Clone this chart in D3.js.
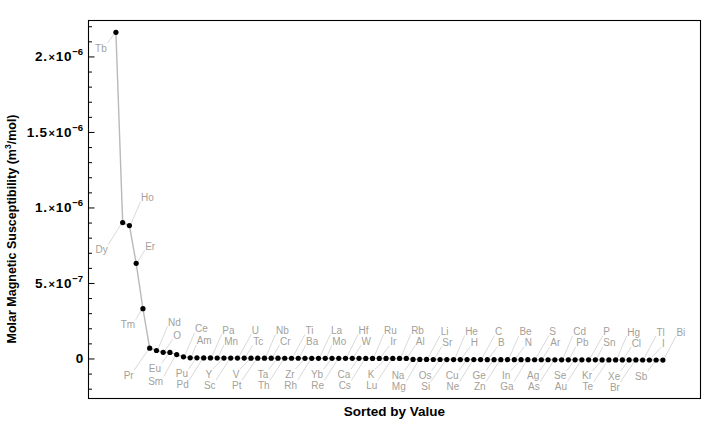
<!DOCTYPE html>
<html>
<head>
<meta charset="utf-8">
<script src="https://cdn.jsdelivr.net/npm/d3@7"></script>
<style>
  html, body { margin: 0; padding: 0; background: #fff; }
  svg { display: block; }
  text { font-family: "Liberation Sans", Arial, Helvetica, sans-serif; }
</style>
</head>
<body>
<svg id="chart" width="720" height="421"></svg>
<script>
// Elements sorted by molar magnetic susceptibility (descending)
const elements = ["Tb","Dy","Ho","Er","Tm","Pr","Nd","O","Eu","Sm","Ce","Am","Pu","Pd","Pa","Mn","Y","Sc","U","Tc","V","Pt","Nb","Cr","Ta","Th","Ti","Ba","Zr","Rh","La","Mo","Yb","Re","Hf","W","Ca","Cs","Ru","Ir","K","Lu","Rb","Al","Na","Mg","Li","Sr","Os","Si","He","H","Cu","Ne","C","B","Ge","Zn","Be","N","In","Ga","S","Ar","Ag","As","Cd","Pb","Se","Au","P","Sn","Kr","Te","Hg","Cl","Xe","Br","Tl","I","Sb","Bi"];
// Molar magnetic susceptibility, m^3/mol
const values = [2.16e-6, 9.0e-7, 8.8e-7, 6.3e-7, 3.3e-7, 6.8e-8, 5.3e-8, 4.1e-8, 4.0e-8, 2.6e-8,
  1.1e-8, 4.5e-9, 4.2e-9, 4.0e-9, 3.5e-9, 3.2e-9, 3.0e-9, 2.8e-9, 2.6e-9, 2.4e-9,
  2.2e-9, 2.0e-9, 1.9e-9, 1.8e-9, 1.7e-9, 1.6e-9, 1.5e-9, 1.4e-9, 1.3e-9, 1.2e-9,
  1.1e-9, 1.0e-9, 9.0e-10, 8.5e-10, 8.0e-10, 7.5e-10, 7.0e-10, 6.5e-10, 5.5e-10, 4.5e-10,
  3.5e-10, 2.5e-10, 2.0e-10, 1.5e-10, -6.0e-9, -6.2e-9, -6.4e-9, -6.6e-9, -6.8e-9, -7.0e-9,
  -7.1e-9, -7.2e-9, -7.3e-9, -7.4e-9, -7.5e-9, -7.6e-9, -7.7e-9, -7.8e-9, -7.9e-9, -8.0e-9,
  -8.1e-9, -8.2e-9, -8.3e-9, -8.4e-9, -8.5e-9, -8.6e-9, -8.7e-9, -8.8e-9, -8.9e-9, -9.0e-9,
  -9.1e-9, -9.2e-9, -9.3e-9, -9.4e-9, -9.5e-9, -9.6e-9, -9.7e-9, -9.8e-9, -9.9e-9, -1.0e-8,
  -1.02e-8, -1.05e-8];
// Y tick values and their labels (mantissa, exponent)
const yTickValues = [0, 5e-7, 1e-6, 1.5e-6, 2e-6];
const yTickMantissa = ["0", "5.", "1.", "1.5", "2."];
const yTickExponent = ["", "−7", "−6", "−6", "−6"];
const xTitle = "Sorted by Value";
const yTitleMain = "Molar Magnetic Susceptibility (m";
const yTitleSup = "3";
const yTitleEnd = "/mol)";

const svg = d3.select("#chart");
const L = 88.5, R = 700.5, T = 20.5, B = 398.5;

const x = d3.scaleLinear().domain([-3.06, 87.57]).range([L, R]);
const y = d3.scaleLinear().domain([-2.65e-7, 2.238e-6]).range([B, T]);

const data = elements.map((e, i) => ({ name: e, rank: i + 1, value: values[i] }));

// Frame
svg.append("rect").attr("x", L).attr("y", T).attr("width", R - L).attr("height", B - T)
  .attr("fill", "none").attr("stroke", "#000").attr("stroke-width", 1.1);

// Y ticks (inside the frame)
const minorVals = d3.range(-2, 23).filter(k => k % 5 !== 0).map(k => k * 1e-7);
const axMinor = d3.axisRight(y).tickValues(minorVals).tickSize(3.5).tickFormat("");
const axMajor = d3.axisRight(y).tickValues(yTickValues).tickSize(6).tickFormat("");
[axMinor, axMajor].forEach(ax => {
  const g = svg.append("g").attr("transform", `translate(${L},0)`).call(ax);
  g.select(".domain").remove();
  g.selectAll("line").attr("stroke", "#000").attr("stroke-width", 1);
});

// Y tick labels
const tl = svg.append("g");
yTickValues.forEach((v, i) => {
  const t = tl.append("text").attr("x", 83).attr("y", y(v) + 5)
    .attr("text-anchor", "end").attr("font-size", 13.5).attr("font-weight", "bold")
    .attr("letter-spacing", 0.7).attr("fill", "#000");
  if (yTickExponent[i] === "") {
    t.attr("x", 84).text(yTickMantissa[i]);
  } else {
    t.append("tspan").text(yTickMantissa[i]);
    t.append("tspan").attr("font-size", 11).attr("dx", 1).text("×");
    t.append("tspan").text("10");
    t.append("tspan").attr("font-size", 9.5).attr("dy", -6).attr("letter-spacing", 0).text(yTickExponent[i]);
  }
});

// Axis titles
svg.append("text").attr("x", (L + R) / 2).attr("y", 416).attr("text-anchor", "middle")
  .attr("font-size", 13.5).attr("font-weight", "bold").text(xTitle);
const yt = svg.append("text").attr("transform", `translate(16,229) rotate(-90)`)
  .attr("text-anchor", "middle").attr("font-size", 12.5).attr("font-weight", "bold");
yt.append("tspan").text(yTitleMain);
yt.append("tspan").attr("font-size", 8.5).attr("dy", -5).text(yTitleSup);
yt.append("tspan").attr("dy", 5).text(yTitleEnd);

// Callout placement cycle
const slots = {
  farUp:   { dx: 18,  dy: -28, up: true },
  nearUp:  { dx: 14,  dy: -17, up: true },
  nearDown:{ dx: -15, dy: 16,  up: false },
  farDown: { dx: -21, dy: 27,  up: false }
};
const cycle = ["farUp", "nearUp", "nearDown", "farDown"];
data.forEach((d, i) => {
  d.slot = (i === data.length - 1) ? slots.farUp : slots[cycle[((i - 2) % 4 + 4) % 4]];
  d.px = x(d.rank); d.py = y(d.value);
  d.lx = d.px + d.slot.dx; d.ly = d.py + d.slot.dy;
});

const leaderG = svg.append("g");
const lineG = svg.append("g");
const dotG = svg.append("g");
const labelG = svg.append("g");

// Labels
labelG.selectAll("text").data(data).join("text")
  .attr("x", d => d.lx).attr("y", d => d.ly + 3.6)
  .attr("text-anchor", "middle").attr("font-size", 10).attr("fill", "#a49f9a")
  .text(d => d.name)
  .each(function (d) { d.w = this.getComputedTextLength(); });

// Leaders
leaderG.selectAll("line").data(data).join("line")
  .attr("x1", d => d.px + (d.slot.up ? 1.5 : -1.5))
  .attr("y1", d => d.py + (d.slot.up ? -1.5 : 1.5))
  .attr("x2", d => d.slot.up ? d.lx - d.w / 2 - 0.5 : d.lx + d.w / 2 + 0.5)
  .attr("y2", d => d.slot.up ? d.ly + 4 : d.ly - 5)
  .attr("stroke", "#cfcfcf").attr("stroke-width", 0.8);

// Connecting line
lineG.append("path").datum(data)
  .attr("d", d3.line().x(d => x(d.rank)).y(d => y(d.value)))
  .attr("fill", "none").attr("stroke", "#b9b9b9").attr("stroke-width", 1.4);

// Points
dotG.selectAll("circle").data(data).join("circle")
  .attr("cx", d => x(d.rank)).attr("cy", d => y(d.value)).attr("r", 2.6).attr("fill", "#000");
</script>
</body>
</html>
